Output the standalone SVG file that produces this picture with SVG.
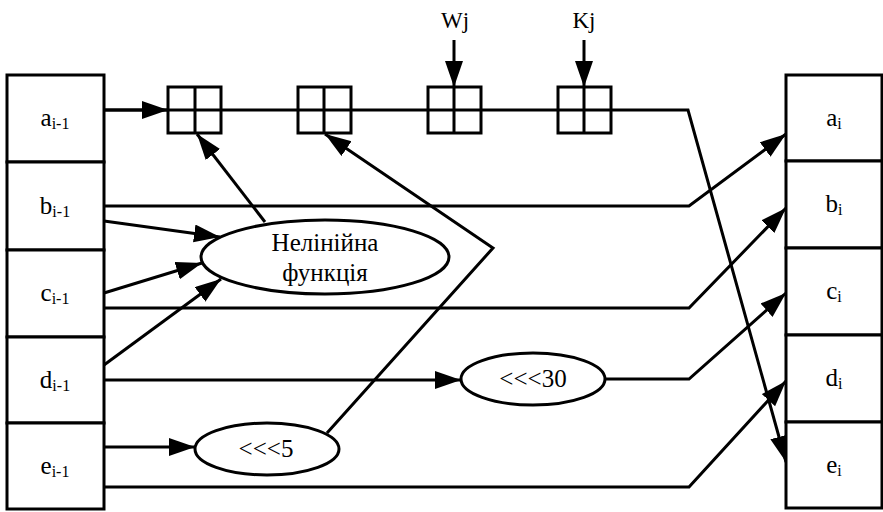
<svg xmlns="http://www.w3.org/2000/svg" width="883" height="512" viewBox="0 0 883 512">
<style>
.box{fill:#fff;stroke:#000;stroke-width:3}
.ln{fill:none;stroke:#000;stroke-width:3}
.arr{fill:none;stroke:#000;stroke-width:3;marker-end:url(#ah)}
.ell{fill:#fff;stroke:#000;stroke-width:3}
text{font-family:"Liberation Serif","DejaVu Serif",serif;font-size:25px;fill:#000}
.lbl{text-anchor:middle}
.big{font-size:25px}
.top{font-size:23px}
.sub{font-size:16px}
</style>
<defs>
<marker id="ah" markerUnits="userSpaceOnUse" markerWidth="28" markerHeight="20" refX="26" refY="9" orient="auto">
<path d="M0,0 L26,9 L0,18 z" fill="#000"/>
</marker>
</defs>
<g id="connectors">
<path class="arr" d="M104,110 H688 L786,462"/>
<path class="arr" d="M104,110 H168"/>
<path class="arr" d="M454,40 V87"/>
<path class="arr" d="M584,40 V87"/>
<path class="arr" d="M104,206 H689 L786,134"/>
<path class="arr" d="M104,221 L220,237"/>
<path class="arr" d="M104,293 L202,263"/>
<path class="arr" d="M104,308 H689 L786,208"/>
<path class="arr" d="M104,365 L221,279"/>
<path class="arr" d="M104,380 H461"/>
<path class="arr" d="M606,379 H689 L786,293"/>
<path class="arr" d="M104,447 H195"/>
<path class="arr" d="M104,487 H689 L786,381"/>
<path class="arr" d="M265,222 L197,134"/>
<path class="arr" d="M327,433 L493,248 L325,134"/>
</g>
<g id="adder1"><rect class="box" x="168" y="87" width="53" height="46"/><path class="ln" d="M168,110 H221 M195,87 V133"/></g>
<g id="adder2"><rect class="box" x="298" y="87" width="53" height="46"/><path class="ln" d="M298,110 H351 M324,87 V133"/></g>
<g id="adder3"><rect class="box" x="428" y="87" width="53" height="46"/><path class="ln" d="M428,110 H481 M454,87 V133"/></g>
<g id="adder4"><rect class="box" x="558" y="87" width="53" height="46"/><path class="ln" d="M558,110 H611 M584,87 V133"/></g>
<g id="Wj"><text class="lbl top" x="455" y="28">Wj</text></g>
<g id="Kj"><text class="lbl top" x="584" y="28">Kj</text></g>
<g id="nonlinear"><ellipse class="ell" cx="325" cy="257" rx="124" ry="37"/><text class="lbl big" x="325" y="251">Нелінійна</text><text class="lbl big" x="325" y="281">функція</text></g>
<g id="rot5"><ellipse class="ell" cx="267" cy="449" rx="72" ry="26"/><text class="lbl big" x="266" y="457">&lt;&lt;&lt;5</text></g>
<g id="rot30"><ellipse class="ell" cx="533" cy="379" rx="72" ry="26"/><text class="lbl big" x="533" y="387">&lt;&lt;&lt;30</text></g>
<g id="a_prev"><rect class="box" x="7" y="75" width="97" height="87"/><text class="lbl" x="55" y="126">a<tspan class="sub" dy="3">i-1</tspan></text></g>
<g id="b_prev"><rect class="box" x="7" y="162" width="97" height="88"/><text class="lbl" x="55" y="214">b<tspan class="sub" dy="3">i-1</tspan></text></g>
<g id="c_prev"><rect class="box" x="7" y="250" width="97" height="87"/><text class="lbl" x="55" y="301">c<tspan class="sub" dy="3">i-1</tspan></text></g>
<g id="d_prev"><rect class="box" x="7" y="337" width="97" height="86"/><text class="lbl" x="55" y="388">d<tspan class="sub" dy="3">i-1</tspan></text></g>
<g id="e_prev"><rect class="box" x="7" y="423" width="97" height="86"/><text class="lbl" x="55" y="474">e<tspan class="sub" dy="3">i-1</tspan></text></g>
<g id="a_new"><rect class="box" x="786" y="75" width="96" height="86"/><text class="lbl" x="834" y="126">a<tspan class="sub" dy="3">i</tspan></text></g>
<g id="b_new"><rect class="box" x="786" y="161" width="96" height="87"/><text class="lbl" x="834" y="212">b<tspan class="sub" dy="3">i</tspan></text></g>
<g id="c_new"><rect class="box" x="786" y="248" width="96" height="87"/><text class="lbl" x="834" y="299">c<tspan class="sub" dy="3">i</tspan></text></g>
<g id="d_new"><rect class="box" x="786" y="335" width="96" height="87"/><text class="lbl" x="834" y="386">d<tspan class="sub" dy="3">i</tspan></text></g>
<g id="e_new"><rect class="box" x="786" y="422" width="96" height="86"/><text class="lbl" x="834" y="473">e<tspan class="sub" dy="3">i</tspan></text></g>
</svg>
